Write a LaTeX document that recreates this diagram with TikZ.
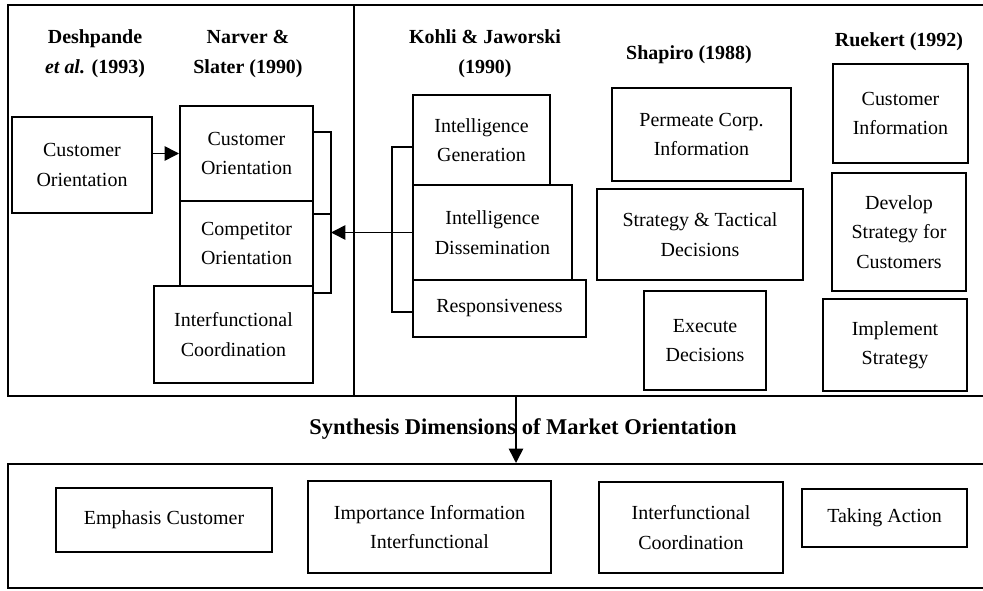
\documentclass[tikz,border=0pt]{standalone}
\usepackage{fontspec}
\setmainfont{Liberation Serif}
\usetikzlibrary{arrows.meta,shapes}

\begin{document}
\begin{tikzpicture}[x=0.025cm, y=-0.025cm,
        every node/.style={font=\fontsize{14.2}{21}\selectfont},
        box/.style={draw, line width=1.4pt, align=center, inner sep=0pt},
        frame/.style={draw, line width=1.4pt, inner sep=0pt},
        head/.style={align=center, font=\fontsize{14.2}{21.5}\selectfont\bfseries},
        link/.style={line width=1.1pt},
        arr/.style={line width=1.1pt, -{Triangle[length=0.36cm, width=0.36cm]}}]
    \useasboundingbox (0,0) rectangle (983,590);
    \clip (0,0) rectangle (983,590);
    % outer frames
    \node[frame, minimum width=8.65cm, minimum height=9.775cm] (lframe) at (181,200.5) {};
    \node[frame, minimum width=15.9cm, minimum height=9.775cm] (rframe) at (672,200.5) {};
    \node[frame, minimum width=24.55cm, minimum height=3.1cm] (bframe) at (499,526) {};
    % column titles
    \node[head] (desh) at (95,54) {Deshpande\\\textit{et al.} (1993)};
    \node[head] (narv) at (248,54) {Narver \&\\Slater (1990)};
    \node[head] (kohli) at (485,54) {Kohli \& Jaworski\\(1990)};
    \node[head] (shap) at (689,55) {Shapiro (1988)};
    \node[head] (ruek) at (899,42) {Ruekert (1992)};
    % Deshpande et al.
    \node[box, minimum width=3.5cm, minimum height=2.4cm] (dco) at (82,165) {Customer\\Orientation};
    % Narver & Slater
    \node[box, minimum width=3.325cm, minimum height=2.375cm] (nco) at (246.5,153.5) {Customer\\Orientation};
    \node[box, minimum width=3.325cm, minimum height=2.125cm] (nco2) at (246.5,243.5) {Competitor\\Orientation};
    \node[box, minimum width=3.975cm, minimum height=2.425cm] (nic) at (233.5,334.5) {Interfunctional\\Coordination};
    % Kohli & Jaworski
    \node[box, minimum width=3.425cm, minimum height=2.25cm] (kig) at (481.5,140) {Intelligence\\Generation};
    \node[box, minimum width=3.975cm, minimum height=2.375cm] (kid) at (492.5,232.5) {Intelligence\\Dissemination};
    \node[box, minimum width=4.325cm, minimum height=1.425cm] (kresp) at (499.5,308.5) {Responsiveness};
    % Shapiro
    \node[box, minimum width=4.475cm, minimum height=2.325cm] (spci) at (701.5,134.5) {Permeate Corp.\\Information};
    \node[box, minimum width=5.15cm, minimum height=2.275cm] (sstd) at (700,234.5) {Strategy \& Tactical\\Decisions};
    \node[box, minimum width=3.05cm, minimum height=2.475cm] (sexe) at (705,340.5) {Execute\\Decisions};
    % Ruekert
    \node[box, minimum width=3.375cm, minimum height=2.475cm] (rci) at (900.5,113.5) {Customer\\Information};
    \node[box, minimum width=3.35cm, minimum height=2.95cm] (rdev) at (899,232) {Develop\\Strategy for\\Customers};
    \node[box, minimum width=3.6cm, minimum height=2.3cm] (rimp) at (895,345) {Implement\\Strategy};
    % synthesis
    \node[head, font=\fontsize{16}{19}\selectfont\bfseries] (synth) at (523,429) {Synthesis Dimensions of Market Orientation};
    \node[box, minimum width=5.4cm, minimum height=1.6cm] (emph) at (164,520) {Emphasis Customer};
    \node[box, minimum width=6.075cm, minimum height=2.3cm] (imp) at (429.5,527) {Importance Information\\Interfunctional};
    \node[box, minimum width=4.6cm, minimum height=2.275cm] (icoord) at (691,527.5) {Interfunctional\\Coordination};
    \node[box, minimum width=4.125cm, minimum height=1.45cm] (act) at (884.5,518) {Taking Action};

    % brackets and arrows
    \coordinate (nbtop) at (331,132);
    \coordinate (nbmid) at (331,214);
    \coordinate (nbbot) at (331,293);
    \coordinate (kbtop) at (392,147);
    \coordinate (kbbot) at (392,312);
    \coordinate (synx) at (516,0);
    \draw[arr] (dco.east |- nco.west) -- (nco.west);
    \draw[link] (nco.east |- nbtop) -- (nbtop) -- (nbbot) -- (nic.east |- nbbot);
    \draw[link] (nco2.east |- nbmid) -- (nbmid);
    \draw[link] (kig.west |- kbtop) -- (kbtop) -- (kbbot) -- (kresp.west |- kbbot);
    \draw[arr] (kid.west) -- (nbtop |- kid.west);
    \draw[arr] (rframe.south -| synx) -- (bframe.north -| synx);
\end{tikzpicture}
\end{document}
